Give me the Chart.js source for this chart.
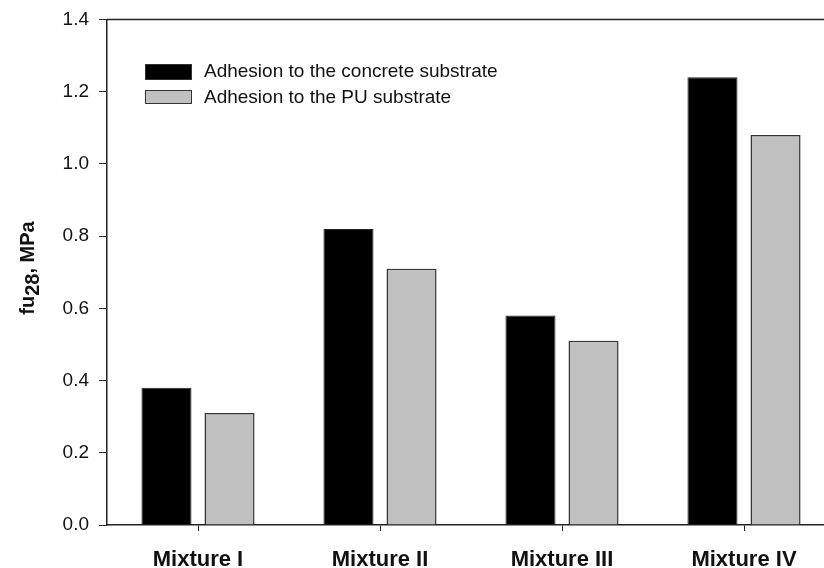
<!DOCTYPE html>
<html>
<head>
<meta charset="utf-8">
<script src="https://cdn.jsdelivr.net/npm/chart.js@4/dist/chart.umd.min.js"></script>
<style>
  html, body { margin: 0; padding: 0; background: #fff; overflow: hidden; }
  #wrap { width: 836px; height: 568px; }
</style>
</head>
<body>
<div id="wrap"><canvas id="adhesionChart" width="836" height="568"></canvas></div>
<script>
const mixtures = ['Mixture I', 'Mixture II', 'Mixture III', 'Mixture IV'];
const concreteAdhesion = [0.38, 0.82, 0.58, 1.24];
const puAdhesion = [0.31, 0.71, 0.51, 1.08];
const yTicks = [0.0, 0.2, 0.4, 0.6, 0.8, 1.0, 1.2, 1.4];

const FONT = "'Liberation Sans', Arial, sans-serif";

// frame line across the top of the plot area
const topFrame = {
    id: 'topFrame',
    afterDraw(chart) {
        const { ctx, chartArea } = chart;
        ctx.save();
        ctx.strokeStyle = '#222';
        ctx.lineWidth = 1.5;
        ctx.beginPath();
        ctx.moveTo(chartArea.left, chartArea.top);
        ctx.lineTo(chartArea.right, chartArea.top);
        ctx.stroke();
        ctx.restore();
    }
};

// boxed legend in the upper left of the plot
const boxLegend = {
    id: 'boxLegend',
    afterDraw(chart) {
        const { ctx } = chart;
        ctx.save();
        chart.data.datasets.forEach((ds, i) => {
            const y = 64 + i * 26;
            ctx.fillStyle = ds.backgroundColor;
            ctx.fillRect(145, y, 47, i === 0 ? 16 : 14);
            ctx.strokeStyle = '#333';
            ctx.lineWidth = 1;
            ctx.strokeRect(145.5, y + 0.5, 46, i === 0 ? 15 : 13);
            ctx.fillStyle = '#111';
            ctx.font = '19px ' + FONT;
            ctx.textBaseline = 'middle';
            ctx.fillText(ds.label, 204, y + 8);
        });
        ctx.restore();
    }
};

// y axis title with subscript
const yTitle = {
    id: 'yTitle',
    afterDraw(chart) {
        const { ctx } = chart;
        ctx.save();
        ctx.translate(34, 268);
        ctx.rotate(-Math.PI / 2);
        ctx.fillStyle = '#111';
        ctx.textBaseline = 'alphabetic';
        const parts = [['fu', 0], ['28', 5], [', MPa', 0]];
        ctx.font = 'bold 20px ' + FONT;
        let total = 0;
        parts.forEach(p => { total += ctx.measureText(p[0]).width; });
        let x = -total / 2;
        parts.forEach(p => {
            ctx.fillText(p[0], x, p[1]);
            x += ctx.measureText(p[0]).width;
        });
        ctx.restore();
    }
};

const ctx = document.getElementById('adhesionChart').getContext('2d');
new Chart(ctx, {
    type: 'bar',
    data: {
        labels: mixtures,
        datasets: [{
            label: 'Adhesion to the concrete substrate',
            data: concreteAdhesion,
            backgroundColor: '#000000',
            borderColor: '#222222',
            borderWidth: 1
        }, {
            label: 'Adhesion to the PU substrate',
            data: puAdhesion,
            backgroundColor: '#c0c0c0',
            borderColor: '#333333',
            borderWidth: 1.5
        }]
    },
    options: {
        responsive: false,
        animation: false,
        layout: { padding: { top: 19.5, right: 1, left: 0, bottom: 0 } },
        categoryPercentage: 0.693,
        barPercentage: 0.794,
        plugins: {
            legend: { display: false },
            tooltip: { enabled: false }
        },
        scales: {
            x: {
                grid: {
                    display: true,
                    offset: false,
                    drawOnChartArea: false,
                    drawTicks: true,
                    tickLength: 6,
                    color: '#222'
                },
                border: { display: true, color: '#222', width: 1.5 },
                ticks: {
                    color: '#111',
                    font: { family: FONT, size: 22, weight: 'bold' },
                    padding: 16,
                    maxRotation: 0
                },
                afterFit(scale) { scale.height = 43; }
            },
            y: {
                min: 0,
                max: 1.4,
                afterBuildTicks(scale) {
                    scale.ticks = yTicks.map(v => ({ value: v }));
                },
                grid: {
                    display: true,
                    drawOnChartArea: false,
                    drawTicks: true,
                    tickLength: 8,
                    color: '#222'
                },
                border: { display: true, color: '#222', width: 1.5 },
                ticks: {
                    color: '#111',
                    font: { family: FONT, size: 19 },
                    padding: 10,
                    callback: v => v.toFixed(1)
                },
                afterFit(scale) {
                    scale.width = 107;
                    scale.paddingTop = 0;
                    scale.paddingBottom = 0;
                }
            }
        }
    },
    plugins: [topFrame, boxLegend, yTitle]
});
</script>
</body>
</html>
